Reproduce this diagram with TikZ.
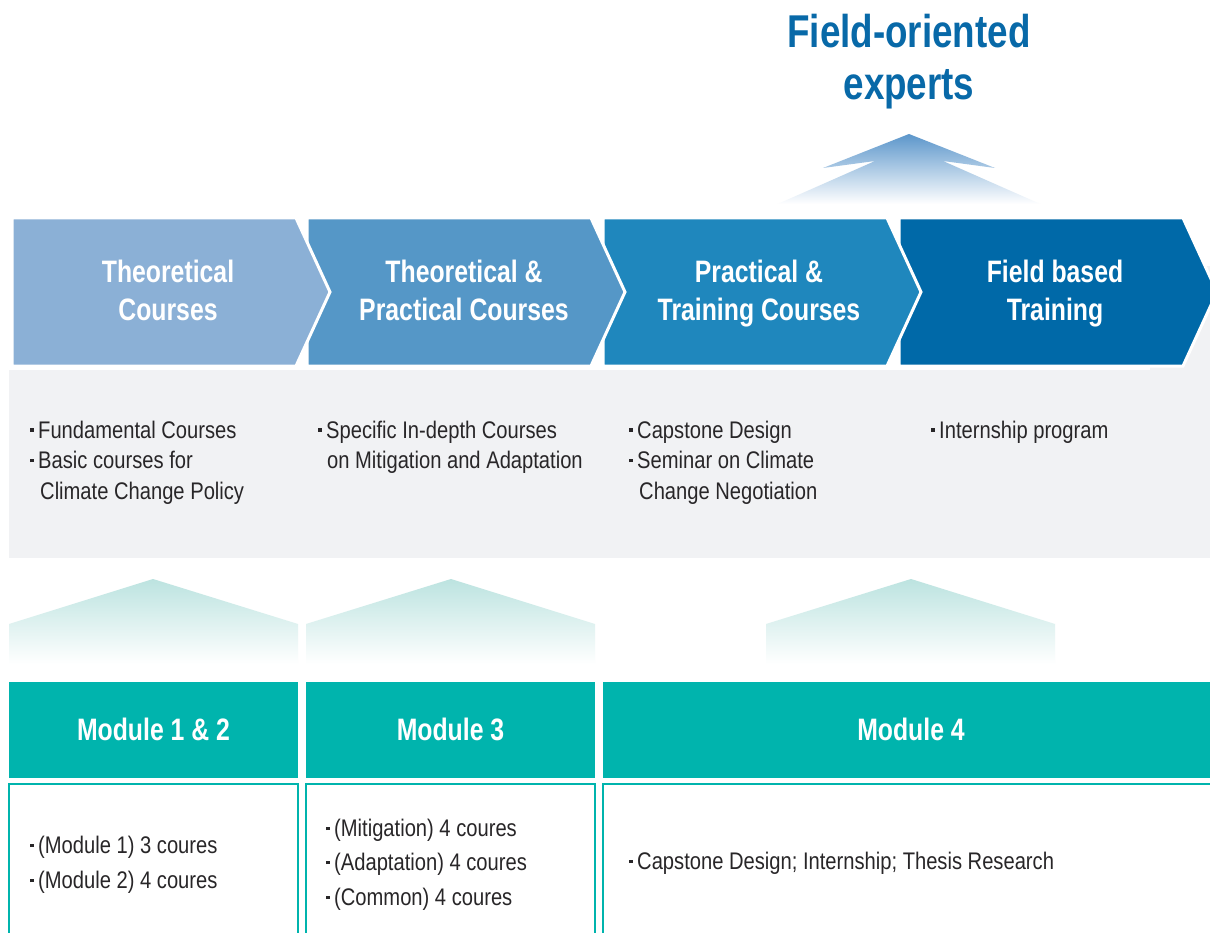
\documentclass[tikz,border=0pt]{standalone}
\usepackage{fontspec}
\setmainfont{Liberation Sans}
\newfontfamily\bodyfont{Liberation Sans}[FakeStretch=0.84]
\newfontfamily\headfont{Liberation Sans}[FakeStretch=0.8]
\definecolor{chevA}{RGB}{139,176,214}
\definecolor{chevB}{RGB}{85,151,199}
\definecolor{chevC}{RGB}{31,135,189}
\definecolor{chevD}{RGB}{0,105,168}
\definecolor{headblue}{RGB}{8,105,168}
\definecolor{panelgray}{RGB}{241,242,244}
\definecolor{teal}{RGB}{0,180,173}
\definecolor{tealtop}{RGB}{188,227,224}
\definecolor{bluetop}{RGB}{92,150,203}
\definecolor{txtdark}{RGB}{40,38,40}
\newcommand\bul{\llap{\raisebox{6.4pt}{\rule{3.6pt}{3.6pt}}\kern4.2pt}}
\tikzset{
  bodytxt/.style={anchor=base west, inner sep=0pt, font=\bodyfont\fontsize{24}{29}\selectfont, text=txtdark},
  chevtitle/.style={anchor=base, inner sep=0pt, font=\headfont\bfseries\fontsize{31}{37}\selectfont, text=white},
  headtxt/.style={anchor=base, inner sep=0pt, font=\headfont\bfseries\fontsize{46}{47}\selectfont, text=headblue},
  chevron/.style={draw=white, line width=3pt, line join=miter},
  modbar/.style={fill=teal},
  modbox/.style={draw=teal, line width=1.3pt, fill=white},
}
\begin{document}
\begin{tikzpicture}[x=1pt,y=-1pt]
\useasboundingbox (0,0) rectangle (1210,933);
\clip (0,0) rectangle (1210,933);
\fill[white] (0,0) rectangle (1210,933);

% heading
\node[headtxt] (h1) at (909,48) {Field-oriented};
\node[headtxt] (h2) at (909,100) {experts};

% top arrow (gradient)
\begin{scope}
  \clip (909,134) -- (995,168) -- (943,161) -- (1072,218) -- (746,218) -- (875,161) -- (823,168) -- cycle;
  \shade[top color=bluetop, bottom color=white] (740,134) rectangle (1080,204);
\end{scope}

% gray panel
\fill[panelgray] (9,370) rectangle (1220,558);
\fill[panelgray] (1150,266) rectangle (1220,370);

% chevrons (drawn right to left so each tip overlaps the next)
\filldraw[chevron, fill=chevD] (899,218) -- (1183,218) -- (1217,292) -- (1183,366) -- (899,366) -- cycle;
\filldraw[chevron, fill=chevC] (603,218) -- (887,218) -- (921,292) -- (887,366) -- (603,366) -- cycle;
\filldraw[chevron, fill=chevB] (307,218) -- (591,218) -- (625,292) -- (591,366) -- (307,366) -- cycle;
\filldraw[chevron, fill=chevA] (12,218) -- (296,218) -- (330,292) -- (296,366) -- (12,366) -- cycle;

\node[chevtitle] (c1a) at (168,283) {Theoretical};
\node[chevtitle] (c1b) at (168,320) {Courses};
\node[chevtitle] (c2a) at (464,283) {Theoretical \&};
\node[chevtitle] (c2b) at (464,320) {Practical Courses};
\node[chevtitle] (c3a) at (759,283) {Practical \&};
\node[chevtitle] (c3b) at (759,320) {Training Courses};
\node[chevtitle] (c4a) at (1055,283) {Field based};
\node[chevtitle] (c4b) at (1055,320) {Training};

% panel texts
\node[bodytxt] (p1a) at (38,438) {\bul Fundamental Courses};
\node[bodytxt] (p1b) at (38,468.5) {\bul Basic courses for};
\node[bodytxt] (p1c) at (40,499) {Climate Change Policy};
\node[bodytxt] (p2a) at (326,438) {\bul Specific In-depth Courses};
\node[bodytxt] (p2b) at (327,468.5) {on Mitigation and Adaptation};
\node[bodytxt] (p3a) at (637,438) {\bul Capstone Design};
\node[bodytxt] (p3b) at (637,468.5) {\bul Seminar on Climate};
\node[bodytxt] (p3c) at (639,499) {Change Negotiation};
\node[bodytxt] (p4a) at (939,438) {\bul Internship program};

% teal up arrows
\begin{scope}
  \clip (153,579) -- (298,624) -- (298,665) -- (9,665) -- (9,624) -- cycle;
  \shade[top color=tealtop, bottom color=white] (0,579) rectangle (310,664);
\end{scope}
\begin{scope}
  \clip (451,579) -- (595,624) -- (595,665) -- (306,665) -- (306,624) -- cycle;
  \shade[top color=tealtop, bottom color=white] (300,579) rectangle (600,664);
\end{scope}
\begin{scope}
  \clip (911,579) -- (1055,624) -- (1055,665) -- (766,665) -- (766,624) -- cycle;
  \shade[top color=tealtop, bottom color=white] (760,579) rectangle (1060,664);
\end{scope}

% module bars
\fill[modbar] (9,682) rectangle (298,778);
\fill[modbar] (306,682) rectangle (595,778);
\fill[modbar] (603,682) rectangle (1219,778);
\node[chevtitle] (m1) at (153.5,740) {Module 1 \& 2};
\node[chevtitle] (m2) at (450.5,740) {Module 3};
\node[chevtitle] (m3) at (911,740) {Module 4};

% module boxes
\draw[modbox] (9,784) rectangle (298,950);
\draw[modbox] (306,784) rectangle (595,950);
\draw[modbox] (603,784) rectangle (1230,950);

\node[bodytxt] (b1a) at (38,853.5) {\bul(Module 1) 3 coures};
\node[bodytxt] (b1b) at (38,888.5) {\bul(Module 2) 4 coures};
\node[bodytxt] (b2a) at (334,836.5) {\bul(Mitigation) 4 coures};
\node[bodytxt] (b2b) at (334,870.5) {\bul(Adaptation) 4 coures};
\node[bodytxt] (b2c) at (334,905.5) {\bul(Common) 4 coures};
\node[bodytxt] (b3a) at (637,869.5) {\bul Capstone Design; Internship; Thesis Research};
\end{tikzpicture}
\end{document}
